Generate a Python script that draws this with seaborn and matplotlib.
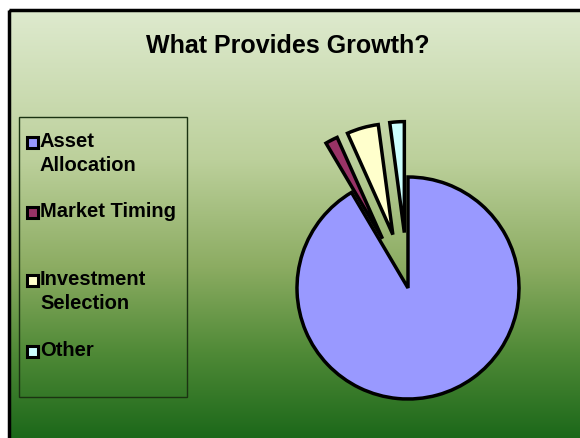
import numpy as np
import matplotlib
matplotlib.use('Agg')
import matplotlib.pyplot as plt
from matplotlib.patches import Rectangle
import seaborn as sns

# Data (Brinson, Singer & Beebower style breakdown)
categories = ['Asset\nAllocation', 'Market Timing', 'Investment\nSelection', 'Other']
shares = [91.5, 1.8, 4.6, 2.1]
explode = [0, 0.5, 0.5, 0.5]
colors = sns.color_palette(['#9999FF', '#993366', '#FFFFCC', '#CCFFFF'])

sns.set_theme(style="white")
plt.rcParams['font.family'] = ['Liberation Sans', 'DejaVu Sans']

W, H = 580, 438
fig = plt.figure(figsize=(5.8, 4.38), dpi=100)
fig.patch.set_facecolor('white')

# Background gradient panel (pixel coordinates)
bg = fig.add_axes([0, 0, 1, 1])
bg.set_xlim(0, W)
bg.set_ylim(H, 0)
bg.axis('off')
stops = np.array([[0.0, 222, 234, 206],
                  [0.35, 188, 208, 155],
                  [0.6, 140, 172, 98],
                  [0.8, 80, 138, 55],
                  [1.0, 28, 104, 26]])
t = np.linspace(0, 1, 256)
grad = np.stack([np.interp(t, stops[:, 0], stops[:, i]) for i in (1, 2, 3)], axis=-1) / 255
grad = np.repeat(grad[:, None, :], 2, axis=1)
bg.imshow(grad, extent=[9, W + 5, H, 10], aspect='auto', zorder=0)
bg.add_patch(Rectangle((9, 10), W, H, fill=False, edgecolor='black', lw=2.5, zorder=2))
bg.add_patch(Rectangle((19, 117), 168, 280, fill=False, edgecolor='#1b3312', lw=1, zorder=2))

bg.text(288, 46, 'What Provides Growth?', ha='center', va='center',
        fontsize=18, fontweight='bold', color='black')

# Manual legend
legend_y = [142, 212, 280, 351]
for lab, col, y in zip(categories, colors, legend_y):
    bg.add_patch(Rectangle((26.5, y - 5.5), 11, 11, facecolor=col, edgecolor='black', lw=2.2, zorder=3))
    bg.text(40, y - 10, lab, ha='left', va='top', fontsize=14.5, fontweight='bold',
            color='black', linespacing=1.33)

# Pie
cx, cy, r = 408, 288, 111
half = 180
ax = fig.add_axes([(cx - half) / W, (H - cy - half) / H, 2 * half / W, 2 * half / H])
ax.pie(shares, colors=colors, explode=explode, startangle=90, counterclock=False,
       wedgeprops=dict(edgecolor='black', linewidth=2.5))
ax.set_xlim(-half / r, half / r)
ax.set_ylim(-half / r, half / r)
ax.axis('off')

fig.savefig('out.png', dpi=100)
